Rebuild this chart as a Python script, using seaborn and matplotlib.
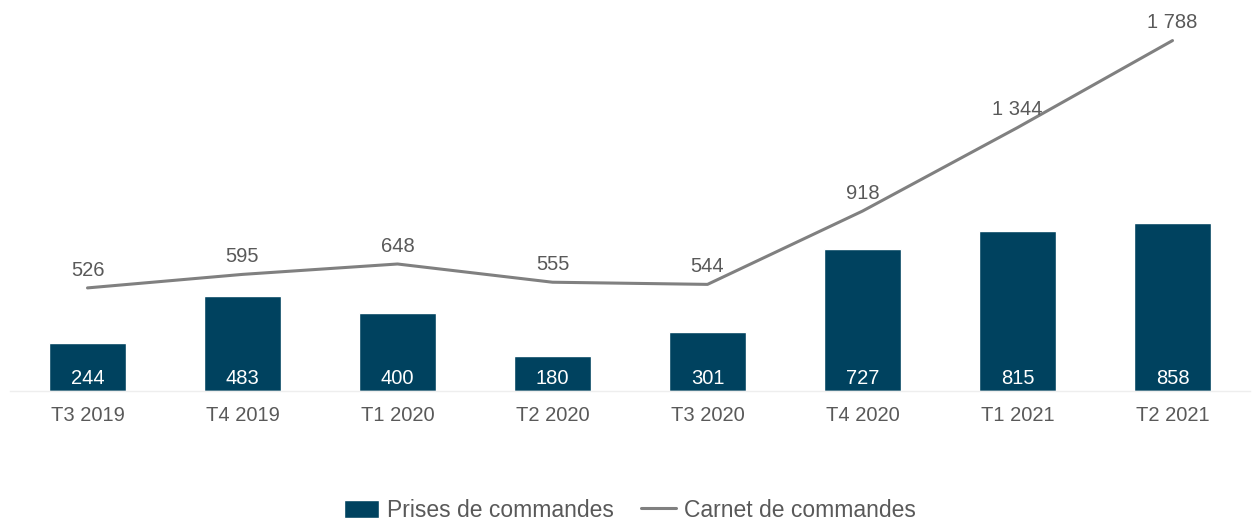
import matplotlib
matplotlib.use("Agg")
import matplotlib.pyplot as plt
import seaborn as sns
import pandas as pd

quarters = ["T3 2019", "T4 2019", "T1 2020", "T2 2020", "T3 2020", "T4 2020", "T1 2021", "T2 2021"]
prises = [244, 483, 400, 180, 301, 727, 815, 858]
carnet = [526, 595, 648, 555, 544, 918, 1344, 1788]

df = pd.DataFrame({"Trimestre": quarters, "Prises": prises, "Carnet": carnet})

sns.set_style("white")
plt.rcParams['font.family'] = ['Liberation Sans', 'DejaVu Sans']

bar_color = "#00425F"
line_color = "#808080"
text_color = "#595959"

fig = plt.figure(figsize=(12.55, 5.23), dpi=100)
ax = fig.add_axes([10 / 1255, 1 - 391 / 523, 1240 / 1255, 391 / 523])

sns.barplot(data=df, x="Trimestre", y="Prises", color=bar_color, width=0.5,
            saturation=1, ax=ax, label="Prises de commandes")
sns.lineplot(x=list(range(len(quarters))), y=carnet, color=line_color, linewidth=2.2,
             ax=ax, label="Carnet de commandes")

# bar labels, white, near the bottom of each bar
for i, v in enumerate(prises):
    ax.text(i, 66, f"{v}", ha="center", va="center", color="white", fontsize=14.5)

# line labels above points
for i, v in enumerate(carnet):
    ax.annotate(f"{v:,}".replace(",", " "), (i, v), xytext=(0, 6), textcoords="offset points",
                ha="center", va="bottom", color=text_color, fontsize=14.5)

ax.set_xlim(-0.5, 7.5)
ax.set_ylim(0, 1995)
ax.set_xlabel("")
ax.set_ylabel("")
ax.set_yticks([])
ax.tick_params(axis="x", length=0, labelsize=14.5, labelcolor=text_color, pad=11)
for s in ["top", "right", "left"]:
    ax.spines[s].set_visible(False)
ax.spines["bottom"].set_color("#EEEEEE")
ax.spines["bottom"].set_linewidth(1)

handles, labels = ax.get_legend_handles_labels()
order = [labels.index("Prises de commandes"), labels.index("Carnet de commandes")]
ax.legend([handles[k] for k in order], [labels[k] for k in order],
          loc="center", bbox_to_anchor=(0.5, -0.305), ncol=2, frameon=False,
          fontsize=16.5, labelcolor=text_color, handlelength=1.5, handleheight=0.8,
          columnspacing=1.2, handletextpad=0.35)

fig.savefig("out.png", dpi=100)
